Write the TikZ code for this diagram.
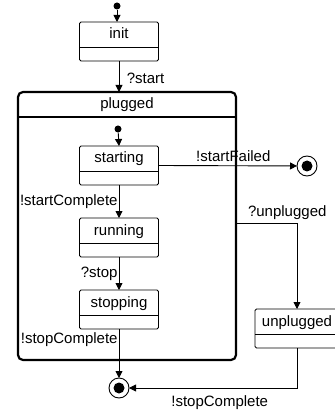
\documentclass[tikz,border=0pt]{standalone}
\usepackage{fontspec}
\setmainfont{Liberation Sans}
\usetikzlibrary{arrows.meta}

\tikzset{
  statebox/.style={draw, line width=0.9pt, rounded corners=1.5pt, anchor=north, outer sep=0pt,
    minimum width=79pt, inner xsep=0pt, inner ysep=0pt, text height=17pt, text depth=22pt},
  startdot/.style={circle, fill, inner sep=0pt, minimum size=7pt},
  finalstate/.style={circle, draw, line width=0.9pt, inner sep=0pt, outer sep=0pt, minimum size=20pt,
    path picture={\fill (path picture bounding box.center) circle (5.5pt);}},
  trans/.style={line width=0.9pt, -{Triangle[length=7pt,width=7pt]}},
}

\begin{document}
\begin{tikzpicture}[x=1pt,y=-1pt,font=\fontsize{15}{17}\selectfont]
  \useasboundingbox (0,0) rectangle (334,411);
  % states
  \node[startdot] (top0) at (117,6) {};
  \node[statebox] (init) at (119,22) {init};
  \node[draw, line width=2.2pt, rounded corners=5pt, anchor=north west, outer sep=0pt, minimum width=218pt,
    inner sep=0pt, text height=17pt, text depth=251pt] (plugged) at (18,92) {plugged};
  \draw[line width=2pt] ([yshift=-25pt]plugged.north west) -- ([yshift=-25pt]plugged.north east);
  \node[startdot] (top1) at (118,129) {};
  \node[statebox] (starting) at (119,146) {starting};
  \node[statebox] (running) at (119,218) {running};
  \node[statebox] (stopping) at (119,290) {stopping};
  \node[statebox, minimum width=84pt] (unplugged) at (297,309) {unplugged};
  \node[finalstate] (failed) at (307,166) {};
  \node[finalstate] (done) at (119,388) {};
  \coordinate (unbend) at (297,223);
  \foreach \s in {init,starting,running,stopping,unplugged}
    \draw[line width=0.9pt] ([yshift=-25pt]\s.north west) -- ([yshift=-25pt]\s.north east);
  % transitions
  \draw[trans] (top0) -- (top0 |- init.north);
  \draw[trans] (init.south) -- node[right, xshift=4pt, yshift=-2pt] {?start} (init.south |- plugged.north);
  \draw[trans] (top1) -- (starting.north);
  \draw[trans] (starting.south) -- node[left, inner sep=1pt] {!startComplete} (running.north);
  \draw[trans] (running.south) -- node[left, inner sep=1pt] {?stop} (stopping.north);
  \draw[trans] (stopping.south) -- node[left, pos=0.22, inner sep=1pt] {!stopComplete} (done);
  \draw[trans] (starting.east) -- node[above, pos=0.54] {!startFailed} (failed);
  \draw[trans] (plugged.east |- unbend) -- node[above, pos=0.84] {?unplugged} (unbend) -- (unplugged.north);
  \draw[trans] (unplugged.south) |- node[below, pos=0.73, yshift=-4pt] {!stopComplete} (done);
\end{tikzpicture}
\end{document}
